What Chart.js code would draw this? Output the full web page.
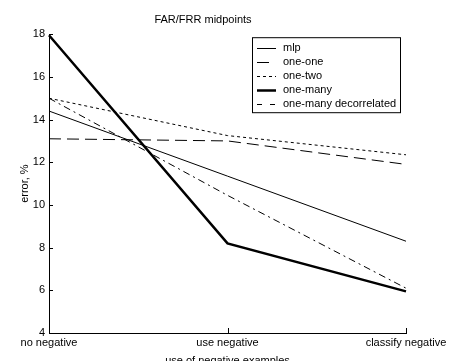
<!DOCTYPE html>
<html>
<head>
<meta charset="utf-8">
<script src="https://cdn.jsdelivr.net/npm/chart.js@4/dist/chart.umd.min.js"></script>
<style>
  html, body { margin: 0; padding: 0; background: #fff; }
  canvas { display: block; }
</style>
</head>
<body>
<canvas id="c" width="458" height="361"></canvas>
<script>
const categories = ['no negative', 'use negative', 'classify negative'];
const mlp = [14.4, 11.35, 8.3];
const oneOne = [13.1, 13.0, 11.9];
const oneTwo = [15.0, 13.25, 12.35];
const oneMany = [17.95, 8.2, 5.95];
const oneManyDecorrelated = [15.0, 10.45, 6.1];
const seriesNames = ['mlp', 'one-one', 'one-two', 'one-many', 'one-many decorrelated'];
const yTicks = [4, 6, 8, 10, 12, 14, 16, 18];

const FONT = "'Liberation Sans', Arial, sans-serif";

const inwardTicks = {
  id: 'inwardTicks',
  afterDraw(chart) {
    const ctx = chart.ctx;
    const xs = chart.scales.x, ys = chart.scales.y;
    const a = chart.chartArea;
    ctx.save();
    ctx.strokeStyle = '#000';
    ctx.lineWidth = 1;
    ctx.beginPath();
    ys.ticks.forEach((t, i) => {
      const y = Math.round(ys.getPixelForTick(i)) + 0.5;
      ctx.moveTo(a.left, y); ctx.lineTo(a.left + 4, y);
    });
    xs.ticks.forEach((t, i) => {
      const x = Math.round(xs.getPixelForTick(i)) + 0.5;
      ctx.moveTo(x, a.bottom); ctx.lineTo(x, a.bottom - 5);
    });
    ctx.stroke();
    ctx.restore();
  }
};

const boxLegend = {
  id: 'boxLegend',
  afterDraw(chart) {
    const ctx = chart.ctx;
    const a = chart.chartArea;
    const bx = a.right - 154, by = a.top + 3, bw = 148, bh = 75;
    ctx.save();
    ctx.fillStyle = '#fff';
    ctx.fillRect(bx, by, bw, bh);
    ctx.strokeStyle = '#000';
    ctx.lineWidth = 1;
    ctx.strokeRect(bx + 0.5, by + 0.5, bw, bh);
    ctx.font = '11px ' + FONT;
    ctx.textBaseline = 'middle';
    ctx.fillStyle = '#000';
    chart.data.datasets.forEach((ds, i) => {
      const y = by + 11 + i * 14;
      ctx.save();
      ctx.strokeStyle = ds.borderColor;
      ctx.lineWidth = ds.borderWidth;
      ctx.setLineDash(ds.legendDash || ds.borderDash || []);
      ctx.beginPath();
      ctx.moveTo(bx + 5, Math.round(y) + 0.5);
      ctx.lineTo(bx + 5 + (ds.legendLen || 19), Math.round(y) + 0.5);
      ctx.stroke();
      ctx.restore();
      ctx.fillText(ds.label, bx + 31, y);
    });
    ctx.restore();
  }
};

const seriesValues = [mlp, oneOne, oneTwo, oneMany, oneManyDecorrelated];
const styles = [
  { borderWidth: 1, borderDash: [] },
  { borderWidth: 1, borderDash: [12, 6], legendLen: 13 },
  { borderWidth: 1, borderDash: [3, 3] },
  { borderWidth: 2.5, borderDash: [] },
  { borderWidth: 1, borderDash: [7, 4, 2, 4], legendDash: [5, 8] }
];

new Chart(document.getElementById('c'), {
  type: 'line',
  data: {
    labels: categories,
    datasets: seriesValues.map((vals, i) => Object.assign({
      label: seriesNames[i],
      data: vals,
      borderColor: '#000',
      backgroundColor: '#000',
      pointRadius: 0,
      tension: 0,
      fill: false
    }, styles[i]))
  },
  plugins: [inwardTicks, boxLegend],
  options: {
    responsive: false,
    devicePixelRatio: 1,
    animation: false,
    layout: { padding: { left: 0, right: 52, top: 0, bottom: 0 } },
    plugins: {
      legend: { display: false },
      tooltip: { enabled: false },
      title: {
        display: true,
        text: 'FAR/FRR midpoints',
        color: '#000',
        font: { family: FONT, size: 11, weight: 'normal' },
        padding: { top: 13, bottom: 8 }
      }
    },
    scales: {
      x: {
        offset: false,
        grid: { display: false, drawTicks: false },
        border: { display: true, color: '#000', width: 1 },
        ticks: { color: '#000', font: { family: FONT, size: 11 }, padding: 3, maxRotation: 0, autoSkip: false },
        title: {
          display: true, text: 'use of negative examples', color: '#000',
          font: { family: FONT, size: 11 }, padding: { top: 0, bottom: -6.5 }
        },
        afterFit(s) { s.height = 28; }
      },
      y: {
        min: 4, max: 18,
        afterBuildTicks(s) { s.ticks = yTicks.map(v => ({ value: v })); },
        grid: { display: false, drawTicks: false },
        border: { display: true, color: '#000', width: 1 },
        ticks: { color: '#000', font: { family: FONT, size: 11 }, padding: 4 },
        title: {
          display: true, text: 'error, %', color: '#000',
          font: { family: FONT, size: 11 }, padding: { top: 18, bottom: 0 }
        },
        afterFit(s) { s.width = 49; }
      }
    }
  }
});
</script>
</body>
</html>
